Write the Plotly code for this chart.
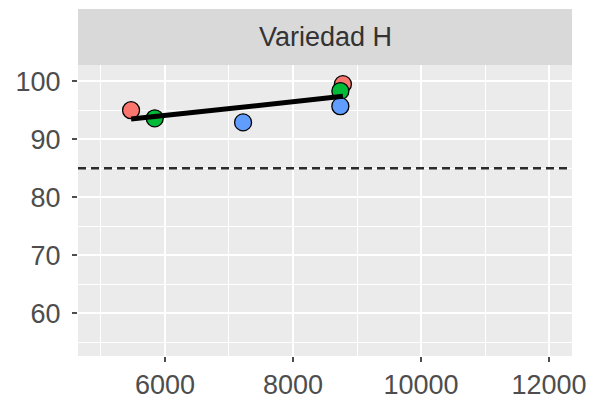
import numpy as np
import plotly.graph_objects as go

# Yield (%) against plant density for "Variedad H", one colour per group
grupo = ["A", "B", "C", "A", "B", "C"]
densidad = [5470, 5840, 7220, 8780, 8740, 8740]
rendimiento = [95.0, 93.6, 92.9, 99.5, 98.3, 95.7]
colores = {"A": "#F8766D", "B": "#00BA38", "C": "#619CFF"}
umbral = 85

x_ticks = [6000, 8000, 10000, 12000]
y_ticks = [60, 70, 80, 90, 100]
x_range = [4641, 12359]
y_range = [52.6, 102.8]

fig = go.Figure()

# reference threshold
fig.add_trace(go.Scatter(
    x=x_range, y=[umbral, umbral], mode="lines",
    line=dict(color="#2b2b2b", width=2.4, dash="8px,5px"),
    hoverinfo="skip", showlegend=False,
))

# least-squares fit across all points
xs = np.array(densidad, dtype=float)
ys = np.array(rendimiento, dtype=float)
b, a = np.polyfit(xs, ys, 1)
x_fit = np.array([xs.min(), xs.max()])
fit_trace = go.Scatter(
    x=x_fit, y=a + b * x_fit, mode="lines",
    line=dict(color="black", width=5),
    hoverinfo="skip", showlegend=False,
)

for g in ["A", "B", "C"]:
    idx = [i for i, v in enumerate(grupo) if v == g]
    fig.add_trace(go.Scatter(
        x=[densidad[i] for i in idx], y=[rendimiento[i] for i in idx],
        mode="markers", name=g, showlegend=False, cliponaxis=False,
        marker=dict(size=17, color=colores[g], line=dict(color="black", width=1.3)),
    ))

fig.add_trace(fit_trace)

minor_x = [5000, 7000, 9000, 11000]
minor_y = [55, 65, 75, 85, 95]

axis_font = dict(family="Liberation Sans, Arial, sans-serif", size=27, color="#4D4D4D")

fig.update_layout(
    width=593, height=403,
    margin=dict(l=78, r=21, t=65, b=47, autoexpand=False),
    paper_bgcolor="white",
    plot_bgcolor="#EBEBEB",
    xaxis=dict(
        range=x_range, tickvals=x_ticks, ticktext=[str(v) for v in x_ticks],
        showgrid=True, gridcolor="white", gridwidth=1.6,
        minor=dict(tickvals=minor_x, showgrid=True, gridcolor="white", gridwidth=0.8),
        ticks="outside", ticklen=5, tickwidth=2, tickcolor="#4D4D4D",
        tickfont=axis_font, zeroline=False, showline=False,
        ticklabelstandoff=0, automargin=False,
    ),
    yaxis=dict(
        range=y_range, tickvals=y_ticks, ticktext=[str(v) for v in y_ticks],
        showgrid=True, gridcolor="white", gridwidth=1.6,
        minor=dict(tickvals=minor_y, showgrid=True, gridcolor="white", gridwidth=0.8),
        ticks="outside", ticklen=5, tickwidth=2, tickcolor="#4D4D4D",
        tickfont=axis_font, zeroline=False, showline=False,
        ticklabelstandoff=6, automargin=False,
    ),
    shapes=[dict(
        type="rect", xref="paper", yref="paper",
        x0=0, x1=1, y0=1, y1=1 + 56 / 291,
        fillcolor="#D9D9D9", line=dict(width=0), layer="below",
    )],
    annotations=[dict(
        text="Variedad H", xref="paper", yref="paper",
        x=0.5, y=1 + 28 / 291, xanchor="center", yanchor="middle",
        showarrow=False,
        font=dict(family="Liberation Sans, Arial, sans-serif", size=27, color="#333333"),
    )],
)

fig.write_html("out.html")
